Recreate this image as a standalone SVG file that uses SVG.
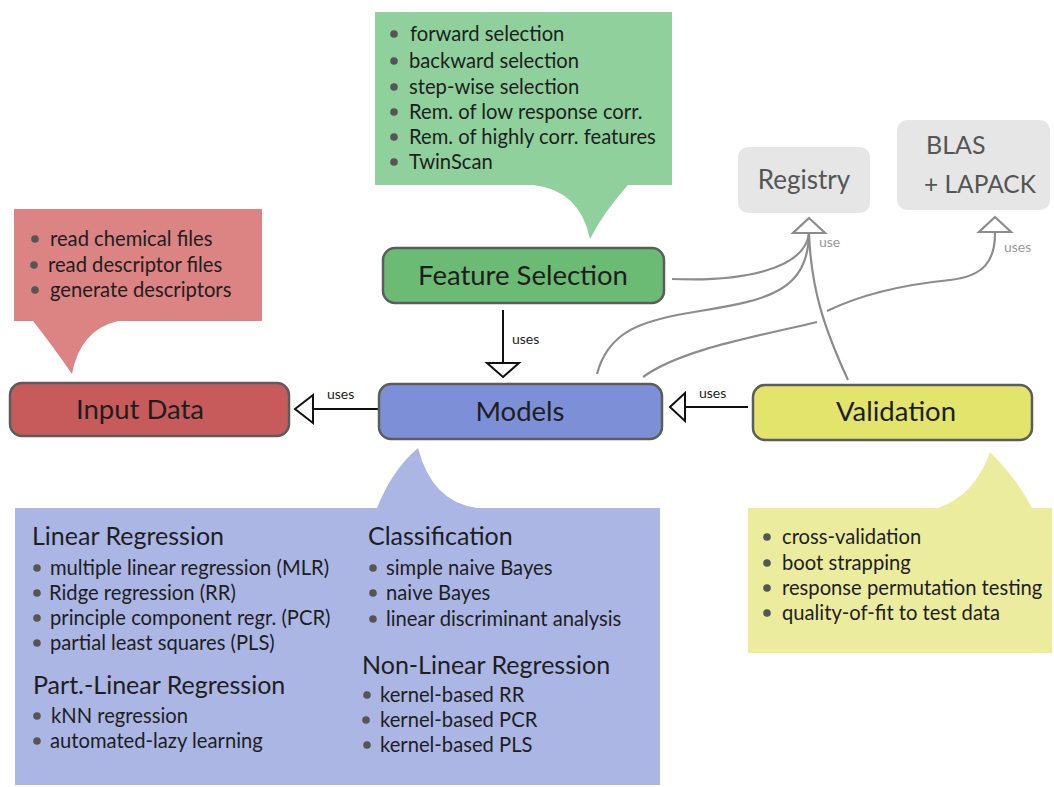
<svg xmlns="http://www.w3.org/2000/svg" width="1054" height="787" viewBox="0 0 1054 787">
  <defs>
    <style>
      text { font-family: Lato, "Open Sans", "Liberation Sans", sans-serif; fill: #1e1e1e; }
      .item { font-size: 20.2px; }
      .head { font-size: 25px; }
      .node-label { font-size: 27.5px; text-anchor: middle; }
      .node { stroke: #5c5c5c; stroke-width: 2.5; }
      .bullet { fill: #555; }
      .lib { fill: #e6e6e6; }
      .lib-label { font-size: 26px; fill: #555; }
      .dep { fill: none; stroke: #8c8c8c; stroke-width: 2.2; }
      .dep-head { fill: #fff; stroke: #8c8c8c; stroke-width: 2.2; }
      .dep-label { font-size: 14px; fill: #999; }
      .uses { fill: none; stroke: #111; stroke-width: 2; }
      .uses-head { fill: #fff; stroke: #111; stroke-width: 2; }
      .uses-label { font-size: 14px; fill: #222; }
    </style>
  </defs>

  <!-- Feature selection callout -->
  <g id="feature-notes">
    <path d="M375,12 H672 V185 H628 Q603,213 590,239 Q580,190 533,185 H375 Z" fill="#8fd09c"/>
    <g class="bullet">
      <circle cx="394" cy="34" r="3.8"/><circle cx="394" cy="61" r="3.8"/><circle cx="394" cy="87" r="3.8"/>
      <circle cx="394" cy="112" r="3.8"/><circle cx="394" cy="137" r="3.8"/><circle cx="394" cy="162" r="3.8"/>
    </g>
    <text class="item" x="410" y="41">forward selection</text>
    <text class="item" x="409" y="68">backward selection</text>
    <text class="item" x="409" y="94">step-wise selection</text>
    <text class="item" x="409" y="119">Rem. of low response corr.</text>
    <text class="item" x="409" y="144">Rem. of highly corr. features</text>
    <text class="item" x="409" y="169">TwinScan</text>
  </g>

  <!-- Input data callout -->
  <g id="input-notes">
    <path d="M14,209 H262 V321 H118 Q80,330 72,374 Q52,345 33,321 H14 Z" fill="#dc8383"/>
    <g class="bullet">
      <circle cx="35" cy="239" r="3.8"/><circle cx="34" cy="265" r="3.8"/><circle cx="35" cy="290" r="3.8"/>
    </g>
    <text class="item" x="50" y="246">read chemical files</text>
    <text class="item" x="48" y="272">read descriptor files</text>
    <text class="item" x="50" y="297">generate descriptors</text>
  </g>

  <!-- Model catalogue callout -->
  <g id="model-notes">
    <path d="M15,508 H377 Q392,470 418,448 Q432,502 477,508 H660 V785 H15 Z" fill="#abb6e5"/>
    <text class="head" x="32" y="545">Linear Regression</text>
    <g class="bullet">
      <circle cx="37" cy="568" r="3.8"/><circle cx="37" cy="593" r="3.8"/><circle cx="37" cy="618" r="3.8"/>
      <circle cx="37" cy="643" r="3.8"/><circle cx="37" cy="716" r="3.8"/><circle cx="37" cy="741" r="3.8"/>
      <circle cx="373" cy="568" r="3.8"/><circle cx="373" cy="593" r="3.8"/><circle cx="373" cy="619" r="3.8"/>
      <circle cx="367" cy="695" r="3.8"/><circle cx="366" cy="720" r="3.8"/><circle cx="367" cy="745" r="3.8"/>
    </g>
    <text class="item" x="50" y="575">multiple linear regression (MLR)</text>
    <text class="item" x="49" y="600">Ridge regression (RR)</text>
    <text class="item" x="50" y="625">principle component regr. (PCR)</text>
    <text class="item" x="50" y="650">partial least squares (PLS)</text>
    <text class="head" x="33" y="694">Part.-Linear Regression</text>
    <text class="item" x="51" y="723">kNN regression</text>
    <text class="item" x="50" y="748">automated-lazy learning</text>
    <text class="head" x="368" y="545">Classification</text>
    <text class="item" x="386" y="575">simple naive Bayes</text>
    <text class="item" x="386" y="600">naive Bayes</text>
    <text class="item" x="386" y="626">linear discriminant analysis</text>
    <text class="head" x="362" y="674">Non-Linear Regression</text>
    <text class="item" x="380" y="702">kernel-based RR</text>
    <text class="item" x="380" y="727">kernel-based PCR</text>
    <text class="item" x="380" y="752">kernel-based PLS</text>
  </g>

  <!-- Validation callout -->
  <g id="validation-notes">
    <path d="M748,508 H938 Q975,495 990,452 Q1018,480 1032,508 H1052 V653 H748 Z" fill="#ecec9f"/>
    <g class="bullet">
      <circle cx="767" cy="537" r="3.8"/><circle cx="767" cy="563" r="3.8"/>
      <circle cx="767" cy="588" r="3.8"/><circle cx="767" cy="613" r="3.8"/>
    </g>
    <text class="item" x="782" y="544">cross-validation</text>
    <text class="item" x="782" y="570">boot strapping</text>
    <text class="item" x="782" y="595">response permutation testing</text>
    <text class="item" x="782" y="620">quality-of-fit to test data</text>
  </g>

  <!-- Libraries -->
  <g id="registry">
    <rect class="lib" x="738" y="147" width="132" height="66" rx="10"/>
    <text class="lib-label" x="804" y="189" text-anchor="middle">Registry</text>
  </g>
  <g id="blas-lapack">
    <rect class="lib" x="897" y="120" width="153" height="90" rx="10"/>
    <text class="lib-label" x="926" y="154" style="font-size:25px">BLAS</text>
    <text class="lib-label" x="924" y="193" style="font-size:24.5px">+ LAPACK</text>
  </g>

  <!-- Connectors -->
  <g id="connectors">
    <!-- library dependencies -->
    <path class="dep" d="M672,279 C740,282 805,270 809,233"/>
    <path class="dep" d="M597,374 C608,332 640,320 700,311 C770,300 808,290 809,233"/>
    <path class="dep" d="M643,377 C680,350 750,338 817,322"/>
    <path class="dep" d="M827,311 C860,295 900,285 950,280 C985,276 995,260 995,233"/>
    <path class="dep" d="M848,380 C825,330 811,290 809,233"/>
    <path class="dep-head" d="M809,218 L825,233 L793,233 Z"/>
    <path class="dep-head" d="M995,217 L1011,232 L979,232 Z"/>
    <text class="dep-label" x="819" y="247">use</text>
    <text class="dep-label" x="1004" y="252">uses</text>

    <!-- uses relations -->
    <path class="uses" d="M503,310 V363"/>
    <path class="uses-head" d="M503,377 L519,363 L487,363 Z"/>
    <text class="uses-label" x="512" y="344">uses</text>

    <path class="uses" d="M378,409 H313"/>
    <path class="uses-head" d="M295,409 L313,395 L313,423 Z"/>
    <text class="uses-label" x="327" y="399">uses</text>

    <path class="uses" d="M748,407 H685"/>
    <path class="uses-head" d="M670,407 L685,393 L685,421 Z"/>
    <text class="uses-label" x="699" y="398">uses</text>
  </g>

  <!-- Main components -->
  <g id="input-data">
    <rect class="node" x="10" y="383" width="279" height="53" rx="12" fill="#c75b5b"/>
    <text class="node-label" x="140" y="419">Input Data</text>
  </g>
  <g id="feature-selection">
    <rect class="node" x="383" y="248" width="281" height="55" rx="12" fill="#6bbb74"/>
    <text class="node-label" x="523" y="285">Feature Selection</text>
  </g>
  <g id="models">
    <rect class="node" x="379" y="384" width="283" height="55" rx="12" fill="#7d8fd6"/>
    <text class="node-label" x="520" y="421">Models</text>
  </g>
  <g id="validation">
    <rect class="node" x="753" y="385" width="279" height="55" rx="12" fill="#e3e46b"/>
    <text class="node-label" x="896" y="421">Validation</text>
  </g>
</svg>
